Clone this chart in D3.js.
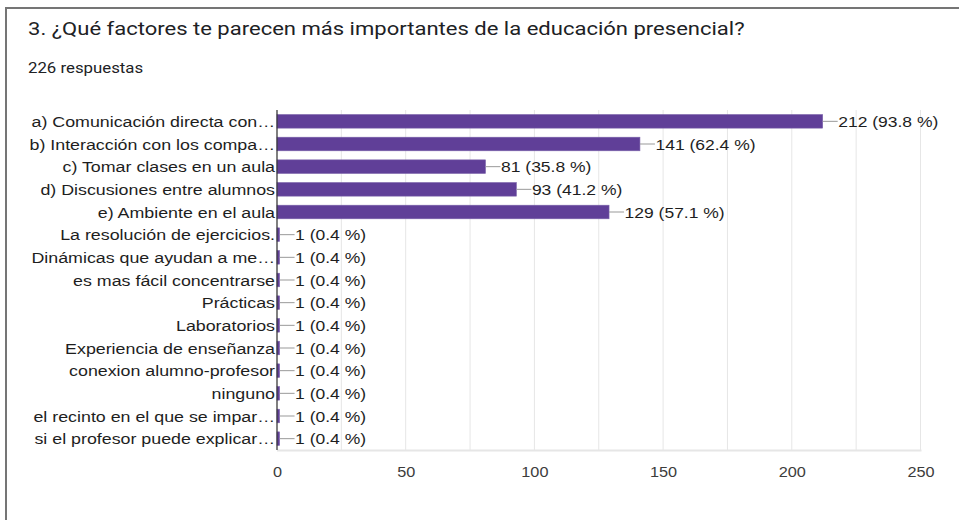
<!DOCTYPE html>
<html lang="es">
<head>
<meta charset="utf-8">
<title>Factores educación presencial</title>
<script src="https://d3js.org/d3.v7.min.js"></script>
<style>
  body { margin: 0; background: #fff; }
  .title { font-family: Roboto, "Liberation Sans", sans-serif; font-size: 19px; fill: #202124; }
  .sub { font-family: Roboto, "Liberation Sans", sans-serif; font-size: 14px; fill: #202124; }
  .cat { font-family: "Liberation Sans", Arial, sans-serif; font-size: 15.5px; fill: #1e1e1e; }
  .val { font-family: "Liberation Sans", Arial, sans-serif; font-size: 15.5px; fill: #1e1e1e; }
  .tick text { font-family: "Liberation Sans", Arial, sans-serif; font-size: 15.5px; fill: #3c3c3c; }
</style>
</head>
<body>
<svg id="chart" width="959" height="520"></svg>
<script>
const categories = [
  "a) Comunicación directa con…",
  "b) Interacción con los compa…",
  "c) Tomar clases en un aula",
  "d) Discusiones entre alumnos",
  "e) Ambiente en el aula",
  "La resolución de ejercicios.",
  "Dinámicas que ayudan a me…",
  "es mas fácil concentrarse",
  "Prácticas",
  "Laboratorios",
  "Experiencia de enseñanza",
  "conexion alumno-profesor",
  "ninguno",
  "el recinto en el que se impar…",
  "si el profesor puede explicar…"
];
const counts = [212, 141, 81, 93, 129, 1, 1, 1, 1, 1, 1, 1, 1, 1, 1];
const percents = ["93.8", "62.4", "35.8", "41.2", "57.1", "0.4", "0.4", "0.4", "0.4", "0.4", "0.4", "0.4", "0.4", "0.4", "0.4"];
const xTicks = [0, 50, 100, 150, 200, 250];
const gridTicks = [0, 25, 50, 75, 100, 125, 150, 175, 200, 225, 250];

const data = categories.map((c, i) => ({ cat: c, n: counts[i], pct: percents[i] }));

const svg = d3.select("#chart");
const plot = { left: 277, right: 920.5, top: 110, bottom: 450 };

// the screenshot is a bit wider than tall, so text gets a horizontal stretch
const place = (x0, y0, sx) => `translate(${x0},${y0}) scale(${sx},1)`;

// frame
svg.append("path")
  .attr("d", "M6,520 V8 H959")
  .attr("fill", "none")
  .attr("stroke", "#757575")
  .attr("stroke-width", 2);

svg.append("text").attr("class", "title")
  .attr("transform", place(28, 35, 1.16))
  .text("3. ¿Qué factores te parecen más importantes de la educación presencial?");
svg.append("text").attr("class", "sub")
  .attr("transform", place(28, 73, 1.2))
  .text("226 respuestas");

const x = d3.scaleLinear().domain([0, 250]).range([plot.left, plot.right]);
const y = d3.scaleBand().domain(categories).range([plot.top, plot.bottom]).paddingInner(0.4).paddingOuter(0.2);
const mid = d => y(d.cat) + y.bandwidth() / 2;
const barEnd = d => Math.max(x(d.n), x(0) + 2.5);

// grid
svg.append("g").selectAll("line").data(gridTicks).join("line")
  .attr("x1", d => x(d)).attr("x2", d => x(d))
  .attr("y1", plot.top).attr("y2", plot.bottom)
  .attr("stroke", "#e6e6e6").attr("stroke-width", 1);
svg.append("line")
  .attr("x1", plot.left).attr("x2", plot.right + 1)
  .attr("y1", plot.bottom + 0.5).attr("y2", plot.bottom + 0.5)
  .attr("stroke", "#e6e6e6").attr("stroke-width", 2);

// bars
svg.append("g").selectAll("rect").data(data).join("rect")
  .attr("x", x(0))
  .attr("y", d => y(d.cat))
  .attr("width", d => barEnd(d) - x(0))
  .attr("height", y.bandwidth())
  .attr("fill", "#603f98")
  .attr("stroke", "#7a62aa")
  .attr("stroke-width", 0.6);

// zero line
svg.append("line")
  .attr("x1", x(0)).attr("x2", x(0))
  .attr("y1", plot.top).attr("y2", plot.bottom)
  .attr("stroke", "#333").attr("stroke-width", 1.2);

// connectors + value labels
const lab = svg.append("g");
lab.selectAll("line").data(data).join("line")
  .attr("x1", d => barEnd(d))
  .attr("x2", d => barEnd(d) + 15)
  .attr("y1", mid).attr("y2", mid)
  .attr("stroke", "#999").attr("stroke-width", 1);
lab.selectAll("text").data(data).join("text")
  .attr("class", "val")
  .attr("transform", d => place(barEnd(d) + 15.5, mid(d), 1.13))
  .attr("dy", "0.36em")
  .text(d => `${d.n} (${d.pct} %)`);

// category labels
svg.append("g").selectAll("text").data(data).join("text")
  .attr("class", "cat")
  .attr("transform", d => place(plot.left - 2, mid(d), 1.15))
  .attr("dy", "0.36em")
  .attr("text-anchor", "end")
  .text(d => d.cat);

// x axis
const xAxis = svg.append("g")
  .attr("transform", `translate(0,${plot.bottom + 12})`)
  .call(d3.axisBottom(x).tickValues(xTicks).tickSize(0).tickPadding(4));
xAxis.select(".domain").remove();
xAxis.selectAll(".tick text").attr("transform", "scale(1.05,1)");
</script>
</body>
</html>
